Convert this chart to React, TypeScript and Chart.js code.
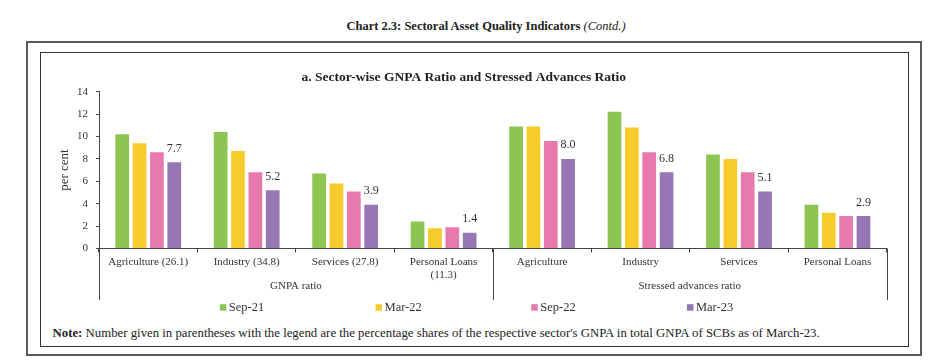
import React, { useEffect, useRef } from 'react';
import { Chart, registerables } from 'chart.js';

Chart.register(...registerables);

const categories: (string | string[])[] = [
  'Agriculture (26.1)',
  'Industry (34.8)',
  'Services (27.8)',
  ['Personal Loans', '(11.3)'],
  'Agriculture',
  'Industry',
  'Services',
  'Personal Loans',
];
const groupLabels = ['GNPA ratio', 'Stressed advances ratio'];
const seriesNames = ['Sep-21', 'Mar-22', 'Sep-22', 'Mar-23'];
const sep21 = [10.2, 10.4, 6.7, 2.4, 10.9, 12.2, 8.4, 3.9];
const mar22 = [9.4, 8.7, 5.8, 1.8, 10.9, 10.8, 8.0, 3.2];
const sep22 = [8.6, 6.8, 5.1, 1.9, 9.6, 8.6, 6.8, 2.9];
const mar23 = [7.7, 5.2, 3.9, 1.4, 8.0, 6.8, 5.1, 2.9];
const seriesColors = ['#8CC551', '#F6CB2B', '#E879AE', '#9776B4'];
const yMin = 0;
const yMax = 14;
const yStep = 2;

const FONT = "'Liberation Serif', 'DejaVu Serif', serif";
const TEXT = '#333333';
const LINE = '#444444';

const decorPlugin = {
  id: 'decor',
  afterDatasetsDraw(chart: any) {
    const ctx = chart.ctx;
    const last = chart.data.datasets.length - 1;
    const meta = chart.getDatasetMeta(last);
    ctx.save();
    ctx.font = `12px ${FONT}`;
    ctx.fillStyle = TEXT;
    ctx.textAlign = 'center';
    ctx.textBaseline = 'alphabetic';
    meta.data.forEach((el: any, i: number) => {
      const v = chart.data.datasets[last].data[i];
      ctx.fillText(Number(v).toFixed(1), el.x, el.y - 10.5);
    });
    ctx.restore();
  },
  afterDraw(chart: any) {
    const ctx = chart.ctx;
    const ca = chart.chartArea;
    const n = chart.data.labels.length;
    const w = (ca.right - ca.left) / n;
    ctx.save();
    // separators
    ctx.strokeStyle = LINE;
    ctx.lineWidth = 1;
    const half = n / 2;
    [0, half, n].forEach((i) => {
      const x = Math.round(ca.left + i * w) + 0.5;
      ctx.beginPath();
      ctx.moveTo(x, ca.bottom);
      ctx.lineTo(x, ca.bottom + 51.5);
      ctx.stroke();
    });
    // group labels
    ctx.font = `11px ${FONT}`;
    ctx.fillStyle = TEXT;
    ctx.textAlign = 'center';
    ctx.textBaseline = 'middle';
    groupLabels.forEach((g, gi) => {
      const cx = ca.left + (gi * half + half / 2) * w;
      ctx.fillText(g, cx, ca.bottom + 37.5);
    });
    // legend
    const cxAll = (ca.left + ca.right) / 2;
    const startX = cxAll - 273;
    const step = 155.7;
    const ly = ca.bottom + 59.2;
    ctx.font = `12.5px ${FONT}`;
    ctx.textAlign = 'left';
    chart.data.datasets.forEach((ds: any, i: number) => {
      const x = startX + i * step;
      ctx.fillStyle = ds.backgroundColor;
      ctx.fillRect(x, ly - 3.5, 6.5, 6.5);
      ctx.fillStyle = TEXT;
      ctx.fillText(ds.label, x + 9, ly);
    });
    ctx.restore();
  },
};

function ChartCanvas() {
  const ref = useRef<HTMLCanvasElement>(null);
  useEffect(() => {
    if (!ref.current) return;
    const series = [sep21, mar22, sep22, mar23];
    const chart = new Chart(ref.current, {
      type: 'bar',
      data: {
        labels: categories,
        datasets: series.map((d, i) => ({
          label: seriesNames[i],
          data: d,
          backgroundColor: seriesColors[i],
          borderWidth: 0,
          categoryPercentage: 0.705,
          barPercentage: 0.79,
        })),
      },
      options: {
        responsive: false,
        animation: false,
        layout: { padding: { left: 0, right: 20.3, top: 0, bottom: 0 } },
        plugins: {
          legend: { display: false },
          tooltip: { enabled: false },
          title: {
            display: true,
            text: 'a. Sector-wise GNPA Ratio and Stressed Advances Ratio',
            color: '#222222',
            font: { family: FONT, size: 13.5, weight: 'bold', lineHeight: 1.2 },
            padding: { top: 15.6, bottom: 5.9 },
          },
        },
        scales: {
          x: {
            offset: true,
            grid: {
              offset: true,
              drawOnChartArea: false,
              tickLength: 4,
              color: LINE,
            },
            border: { color: LINE, width: 1 },
            ticks: {
              color: TEXT,
              font: { family: FONT, size: 11 },
              padding: 3,
              maxRotation: 0,
              autoSkip: false,
            },
            afterFit: (s: any) => {
              s.height = 73.5;
            },
          },
          y: {
            min: yMin,
            max: yMax,
            grid: { drawOnChartArea: false, tickLength: 3, color: LINE },
            border: { color: LINE, width: 1 },
            ticks: {
              stepSize: yStep,
              color: TEXT,
              font: { family: FONT, size: 11 },
              padding: 8,
            },
            title: {
              display: true,
              text: 'per cent',
              color: TEXT,
              font: { family: FONT, size: 13 },
              padding: { top: 16.2, bottom: 0 },
            },
            afterFit: (s: any) => {
              s.width = 58;
            },
          },
        },
      },
      plugins: [decorPlugin],
    } as any);
    return () => chart.destroy();
  }, []);
  return <canvas ref={ref} width={866} height={268} style={{ width: 866, height: 268, display: 'block' }} />;
}

export default function App() {
  return (
    <div style={{ position: 'absolute', left: 0, top: 0, width: 940, height: 363, background: '#fff', fontFamily: FONT }}>
      <div
        style={{
          position: 'absolute',
          left: 486,
          top: 18,
          transform: 'translateX(-50%)',
          whiteSpace: 'nowrap',
          fontSize: 12.5,
          fontWeight: 'bold',
          color: '#222',
          lineHeight: '17px',
        }}
      >
        Chart 2.3: Sectoral Asset Quality Indicators{' '}
        <span style={{ fontStyle: 'italic', fontWeight: 'normal' }}>(Contd.)</span>
      </div>
      <div
        style={{
          position: 'absolute',
          left: 26,
          top: 41,
          width: 896,
          height: 315,
          border: '2px solid #5a5a5a',
          boxSizing: 'border-box',
        }}
      />
      <div
        style={{
          position: 'absolute',
          left: 39.5,
          top: 51.5,
          width: 869,
          height: 295,
          border: '1.5px solid #333',
          boxSizing: 'border-box',
        }}
      />
      <div style={{ position: 'absolute', left: 41, top: 54 }}>
        <ChartCanvas />
      </div>
      <div
        style={{
          position: 'absolute',
          left: 52.5,
          top: 325,
          fontSize: 12.8,
          color: '#222',
          lineHeight: '16px',
          whiteSpace: 'nowrap',
        }}
      >
        <b>Note:</b> Number given in parentheses with the legend are the percentage shares of the respective sector's GNPA in total GNPA of SCBs as of March-23.
      </div>
    </div>
  );
}
